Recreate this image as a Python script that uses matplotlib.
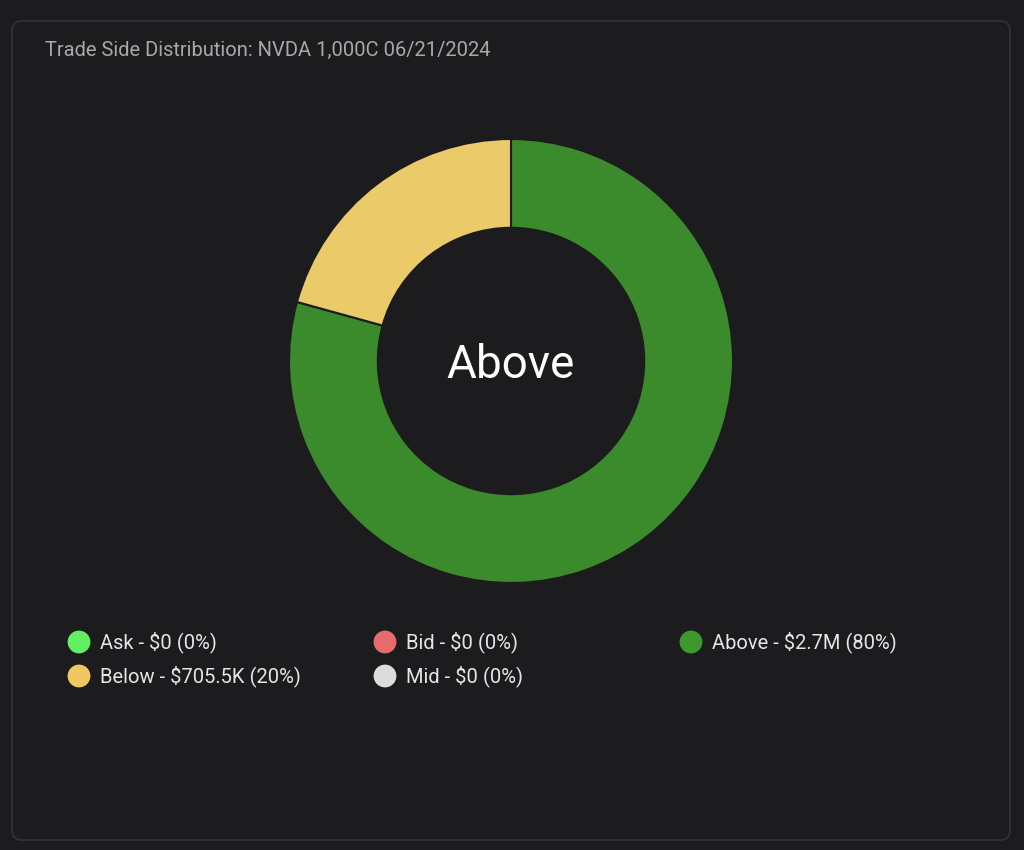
import matplotlib.pyplot as plt
from matplotlib.patches import FancyBboxPatch

# data
sides = ['Ask', 'Bid', 'Above', 'Below', 'Mid']
amounts = [0, 0, 2.7e6, 705.5e3, 0]
amount_labels = ['$0', '$0', '$2.7M', '$705.5K', '$0']
pct_labels = ['0%', '0%', '80%', '20%', '0%']
colors = ['#63ee63', '#e86b6b', '#3b8a2b', '#ebca6a', '#dcdcdc']
legend_colors = ['#63ee63', '#e86b6b', '#3d982e', '#f0c862', '#dcdcdc']

bg = '#1c1c1e'
plt.rcParams['font.family'] = ['Roboto', 'DejaVu Sans']

W, H = 1024, 850
fig = plt.figure(figsize=(W / 100, H / 100), dpi=100)
fig.patch.set_facecolor(bg)

# background axes in pixel coordinates (card + legend)
bgax = fig.add_axes([0, 0, 1, 1], zorder=0)
bgax.set_xlim(0, W)
bgax.set_ylim(H, 0)
bgax.axis('off')
bgax.add_patch(FancyBboxPatch((12, 21), 998, 819,
                              boxstyle='round,pad=0,rounding_size=10',
                              facecolor=bg, edgecolor='#303032', linewidth=1.5))
bgax.text(45, 50, 'Trade Side Distribution: NVDA 1,000C 06/21/2024',
          color='#a9a9a9', fontsize=14.5, va='center', ha='left')

# legend, row-major in three columns
col_x = [79, 385, 691]
row_y = [642, 676]
for i, side in enumerate(sides):
    x = col_x[i % 3]
    y = row_y[i // 3]
    bgax.scatter([x], [y], s=270, color=legend_colors[i], edgecolors='none')
    bgax.text(x + 21, y, f'{side} - {amount_labels[i]} ({pct_labels[i]})',
              color='#e6e6e6', fontsize=14.5, va='center', ha='left')

# donut
cx, cy, r = 511, 361, 222
ax = fig.add_axes([(cx - r) / W, 1 - (cy + r) / H, 2 * r / W, 2 * r / H], zorder=1)
ax.set_facecolor('none')
vals = [v for v in amounts if v > 0]
cols = [c for v, c in zip(amounts, colors) if v > 0]
ax.pie(vals, colors=cols, startangle=90, counterclock=False, radius=1,
       wedgeprops=dict(width=0.40, edgecolor=bg, linewidth=1.5))
ax.set_xlim(-1, 1)
ax.set_ylim(-1, 1)
ax.set_aspect('equal')
ax.axis('off')
ax.text(0, -0.02, 'Above', color='white', fontsize=33, ha='center', va='center')

fig.savefig('out.png', dpi=100, facecolor=bg)
